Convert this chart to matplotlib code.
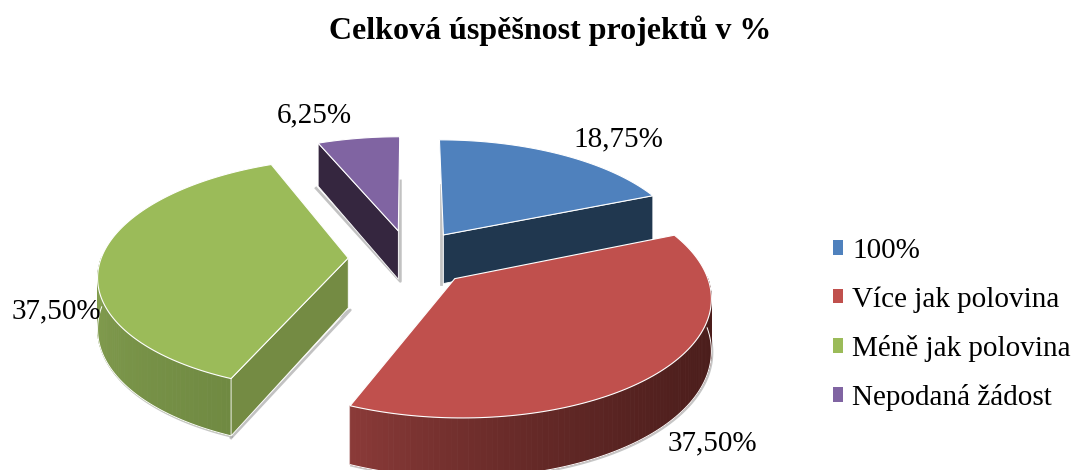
import matplotlib
matplotlib.use('Agg')
import matplotlib.pyplot as plt
from matplotlib.collections import PolyCollection
from matplotlib.colors import to_rgb
from matplotlib.patches import Patch, Polygon
import numpy as np

plt.rcParams['font.family'] = ['Liberation Serif', 'DejaVu Serif']

# data
categories = ['100%', 'Více jak polovina', 'Méně jak polovina', 'Nepodaná žádost']
values = [18.75, 37.50, 37.50, 6.25]
value_labels = ['18,75%', '37,50%', '37,50%', '6,25%']
top_colors = ['#4f81bd', '#c0504d', '#9bbb59', '#8064a2']
side_left = ['#20374f', '#8a3a38', '#849f50', '#35263f']
side_right = ['#20374f', '#4a1d1b', '#708a42', '#35263f']
radial_colors = ['#20374f', '#4a1d1b', '#748b43', '#35263f']

# pseudo 3D projection, fitted by eye
cx, cy = 410, 258
rx, ry = 247, 114
persp = 0.137
explode = 0.25
height = 50


def project(x, y, z=0):
    w = 1 + persp * y
    return cx + rx * x / w, cy - ry * y / w + height * z / w


fig, ax = plt.subplots(figsize=(10.72, 4.7), dpi=100)
ax.set_position([0, 0, 1, 1])
ax.set_xlim(0, 1072)
ax.set_ylim(470, 0)
ax.axis('off')

ends = np.cumsum(values) / sum(values) * 2 * np.pi
starts = np.concatenate([[0], ends[:-1]])

# back to front
for i in [3, 0, 2, 1]:
    mid = (starts[i] + ends[i]) / 2
    ox, oy = explode * np.sin(mid), explode * np.cos(mid)
    t = np.linspace(starts[i], ends[i], 120)
    xs, ys = ox + np.sin(t), oy + np.cos(t)

    # outer wall, only where it faces the viewer
    front = np.cos(t) < 0.02
    if front.any():
        fx, fy = xs[front], ys[front]
        n = len(fx)
        tx, ty = project(fx, fy)
        bx, by = project(fx, fy, 1)
        quads = [[(tx[k], ty[k]), (tx[k + 1], ty[k + 1]), (bx[k + 1], by[k + 1]), (bx[k], by[k])]
                 for k in range(n - 1)]
        c0, c1 = np.array(to_rgb(side_right[i])), np.array(to_rgb(side_left[i]))
        # red stays dark for most of the wall and only lightens near the left end
        power = 2.2 if i == 1 else 1.0
        shades = [c0 + (c1 - c0) * (k / max(n - 2, 1)) ** power for k in range(n - 1)]
        ax.add_collection(PolyCollection(quads, facecolors=shades, edgecolors=shades, linewidths=0.6, zorder=i + 1))
        ax.plot(bx + 1, by + 1, color='#a0a0a0', lw=1.4, alpha=0.6, zorder=i + 0.9)
        ax.plot(bx, by, color='white', lw=0.7, zorder=i + 1.1)

    # cut walls: blue keeps the one at its end angle, green and purple the one at the start
    if i in (0, 2, 3):
        k = -1 if i == 0 else 0
        ax_, ay_ = project(ox, oy)
        ex_, ey_ = project(xs[k], ys[k])
        bx0, by0 = project(ox, oy, 1)
        bx1, by1 = project(xs[k], ys[k], 1)
        # soft grey shadow along the wall edge
        if i == 0:
            shadow_x, shadow_y = [ax_ - 2, bx0 - 2], [ay_ - 50, by0]
        elif i == 2:
            shadow_x, shadow_y = [bx1, bx0 + 2, ex_ + 2], [by1 + 2, by0 + 2, ey_ + 4]
        else:
            shadow_x, shadow_y = [bx1 - 2, bx0 + 2, ax_ + 2], [by1 + 2, by0 + 2, ay_ - 50]
        ax.plot(shadow_x, shadow_y, color='#9a9a9a', lw=2, alpha=0.6, zorder=i + 0.9)
        ax.add_patch(Polygon([(ax_, ay_), (ex_, ey_), (bx1, by1), (bx0, by0)],
                             facecolor=radial_colors[i], edgecolor='white', lw=0.6, zorder=i + 1.2))

    # top face
    px, py = project(np.r_[ox, xs], np.r_[oy, ys])
    ax.add_patch(Polygon(np.c_[px, py], facecolor=top_colors[i], edgecolor='white', lw=0.8, zorder=i + 1.5))

ax.text(550, 31, 'Celková úspěšnost projektů v %', ha='center', va='center',
        fontsize=23, fontweight='bold', color='black')

label_pos = [(618, 139), (712, 443), (56, 311), (314, 115)]
for lab, (lx, ly) in zip(value_labels, label_pos):
    ax.text(lx, ly, lab, ha='center', va='center', fontsize=21, color='black', zorder=10)

handles = [Patch(facecolor=c, edgecolor='none') for c in top_colors]
ax.legend(handles, categories, loc='upper left', bbox_to_anchor=(833 / 1072, 1 - 238 / 470),
          frameon=False, fontsize=21, handlelength=0.33, handleheight=0.38, handletextpad=0.33,
          labelspacing=0.76, borderpad=0, borderaxespad=0)

plt.savefig('out.png', dpi=100, facecolor='white')
plt.close(fig)
